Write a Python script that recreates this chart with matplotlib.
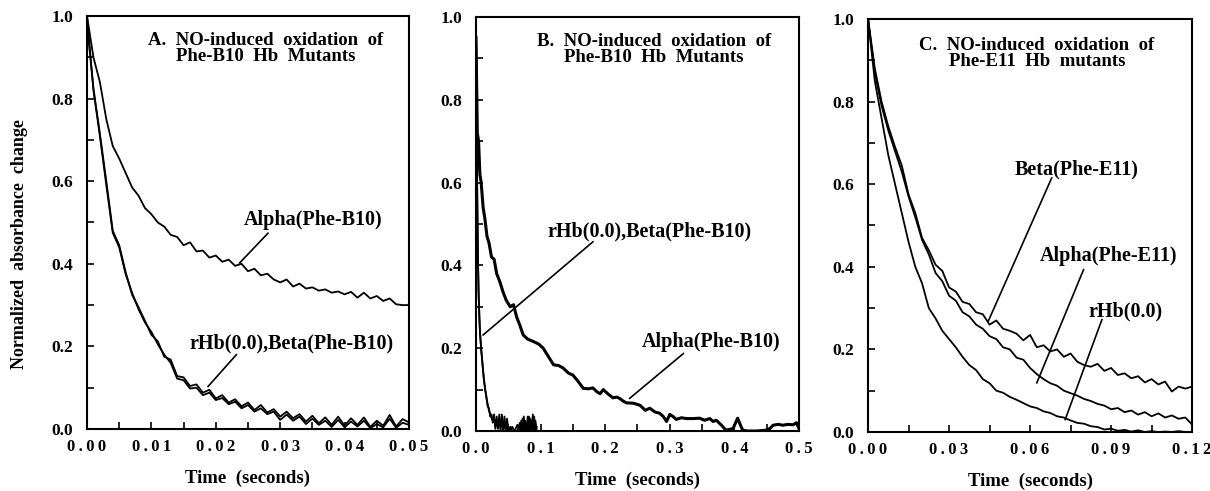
import matplotlib
matplotlib.use("Agg")
import matplotlib.pyplot as plt
from matplotlib.ticker import MultipleLocator, FixedLocator

plt.rcParams['font.family'] = ['Liberation Serif', 'DejaVu Serif']
plt.rcParams['font.weight'] = 'bold'

# ---- Panel A data (Phe-B10, 0-0.05 s) ----
time_a = [0.000, 0.001, 0.002, 0.003, 0.004, 0.005, 0.006, 0.007, 0.008, 0.009,
          0.010, 0.011, 0.012, 0.013, 0.014, 0.015, 0.016, 0.017, 0.018, 0.019,
          0.020, 0.021, 0.022, 0.023, 0.024, 0.025, 0.026, 0.027, 0.028, 0.029,
          0.030, 0.031, 0.032, 0.033, 0.034, 0.035, 0.036, 0.037, 0.038, 0.039,
          0.040, 0.041, 0.042, 0.043, 0.044, 0.045, 0.046, 0.047, 0.048, 0.049,
          0.050]
alpha_a = [1.000, 0.900, 0.840, 0.750, 0.685, 0.655, 0.620, 0.585, 0.565, 0.535,
           0.520, 0.500, 0.490, 0.470, 0.465, 0.445, 0.452, 0.430, 0.432, 0.415,
           0.420, 0.405, 0.410, 0.395, 0.400, 0.382, 0.388, 0.372, 0.376, 0.362,
           0.355, 0.362, 0.345, 0.352, 0.340, 0.343, 0.335, 0.338, 0.330, 0.333,
           0.326, 0.332, 0.318, 0.330, 0.316, 0.322, 0.310, 0.316, 0.302, 0.300,
           0.300]
rhb_a = [1.000, 0.820, 0.710, 0.590, 0.475, 0.440, 0.375, 0.330, 0.290, 0.258,
         0.235, 0.205, 0.180, 0.160, 0.122, 0.118, 0.098, 0.100, 0.082, 0.088,
         0.070, 0.075, 0.060, 0.066, 0.050, 0.058, 0.042, 0.050, 0.036, 0.042,
         0.022, 0.035, 0.020, 0.030, 0.012, 0.025, 0.010, 0.020, 0.005, 0.022,
         0.004, 0.018, 0.006, 0.020, 0.002, 0.012, 0.004, 0.025, 0.003, 0.015,
         0.010]
beta_a = [0.980, 0.825, 0.715, 0.600, 0.480, 0.445, 0.380, 0.325, 0.295, 0.262,
          0.228, 0.212, 0.175, 0.168, 0.128, 0.125, 0.104, 0.108, 0.088, 0.095,
          0.074, 0.082, 0.064, 0.072, 0.055, 0.064, 0.046, 0.058, 0.040, 0.048,
          0.030, 0.042, 0.026, 0.036, 0.018, 0.032, 0.014, 0.028, 0.010, 0.030,
          0.008, 0.026, 0.010, 0.028, 0.005, 0.020, 0.008, 0.034, 0.006, 0.024,
          0.016]

# ---- Panel B data (Phe-B10, 0-0.5 s) ----
time_b_alpha = [0.000, 0.002, 0.004, 0.006, 0.008, 0.011, 0.014, 0.017, 0.020, 0.024,
                0.028, 0.032, 0.037, 0.042, 0.047, 0.053, 0.058, 0.063, 0.068, 0.073,
                0.080, 0.089, 0.097, 0.104, 0.112, 0.120, 0.128, 0.135, 0.143, 0.150,
                0.158, 0.166, 0.174, 0.181, 0.187, 0.192, 0.197, 0.204, 0.212, 0.218,
                0.223, 0.228, 0.233, 0.244, 0.254, 0.262, 0.269, 0.277, 0.284, 0.290,
                0.295, 0.300, 0.305, 0.310, 0.318, 0.326, 0.336, 0.346, 0.354, 0.362,
                0.367, 0.372, 0.380, 0.387, 0.393, 0.398, 0.405, 0.410, 0.413, 0.420,
                0.435, 0.449, 0.455, 0.460, 0.468, 0.475, 0.483, 0.491, 0.496, 0.500]
alpha_b = [0.950, 0.720, 0.700, 0.620, 0.600, 0.540, 0.510, 0.470, 0.455, 0.420,
           0.415, 0.380, 0.360, 0.335, 0.315, 0.300, 0.305, 0.275, 0.255, 0.232,
           0.222, 0.216, 0.210, 0.200, 0.180, 0.160, 0.158, 0.152, 0.140, 0.135,
           0.120, 0.103, 0.102, 0.104, 0.095, 0.090, 0.100, 0.090, 0.080, 0.082,
           0.078, 0.072, 0.068, 0.067, 0.062, 0.050, 0.055, 0.046, 0.043, 0.035,
           0.023, 0.040, 0.035, 0.028, 0.032, 0.030, 0.030, 0.031, 0.026, 0.030,
           0.023, 0.026, 0.014, 0.002, 0.004, 0.006, 0.031, 0.012, 0.002, 0.000,
           0.000, 0.002, 0.006, 0.014, 0.016, 0.014, 0.016, 0.015, 0.020, 0.006]
time_b_fast = [0.000, 0.001, 0.002, 0.003, 0.004, 0.005, 0.006, 0.008, 0.010, 0.012,
               0.014, 0.016, 0.018, 0.020, 0.022, 0.024, 0.026, 0.028, 0.030, 0.032,
               0.034, 0.036, 0.038, 0.040, 0.042, 0.044, 0.046, 0.048, 0.050, 0.053,
               0.056, 0.060, 0.064, 0.068, 0.070, 0.072, 0.074, 0.076, 0.078, 0.080,
               0.082, 0.084, 0.086, 0.088, 0.090, 0.092, 0.094]
rhb_b = [1.000, 0.720, 0.550, 0.420, 0.330, 0.290, 0.240, 0.200, 0.160, 0.130,
         0.100, 0.085, 0.060, 0.055, 0.035, 0.040, 0.020, 0.030, 0.010, 0.035,
         0.005, 0.040, 0.010, 0.030, 0.000, 0.035, 0.005, 0.020, 0.000, 0.010,
         0.000, 0.000, 0.000, 0.020, 0.000, 0.030, 0.002, 0.025, 0.000, 0.035,
         0.000, 0.030, 0.005, 0.040, 0.000, 0.025, 0.000]
beta_b = [0.980, 0.700, 0.560, 0.410, 0.340, 0.280, 0.245, 0.195, 0.165, 0.125,
          0.105, 0.080, 0.065, 0.050, 0.040, 0.032, 0.025, 0.040, 0.005, 0.028,
          0.010, 0.030, 0.000, 0.040, 0.005, 0.020, 0.000, 0.030, 0.004, 0.000,
          0.010, 0.000, 0.015, 0.000, 0.025, 0.000, 0.035, 0.000, 0.020, 0.002,
          0.035, 0.000, 0.025, 0.002, 0.035, 0.000, 0.010]

# ---- Panel C data (Phe-E11, 0-0.12 s) ----
time_c = [0.0000, 0.0025, 0.0050, 0.0075, 0.0100, 0.0125, 0.0150, 0.0175, 0.0200, 0.0225,
          0.0250, 0.0275, 0.0300, 0.0325, 0.0350, 0.0375, 0.0400, 0.0425, 0.0450, 0.0475,
          0.0500, 0.0525, 0.0550, 0.0575, 0.0600, 0.0625, 0.0650, 0.0675, 0.0700, 0.0725,
          0.0750, 0.0775, 0.0800, 0.0825, 0.0850, 0.0875, 0.0900, 0.0925, 0.0950, 0.0975,
          0.1000, 0.1025, 0.1050, 0.1075, 0.1100, 0.1125, 0.1150, 0.1175, 0.1200]
beta_c = [1.000, 0.880, 0.800, 0.740, 0.690, 0.645, 0.575, 0.530, 0.470, 0.440,
          0.405, 0.390, 0.350, 0.340, 0.315, 0.310, 0.290, 0.285, 0.260, 0.270,
          0.250, 0.245, 0.238, 0.222, 0.235, 0.205, 0.210, 0.195, 0.200, 0.182,
          0.190, 0.170, 0.162, 0.158, 0.165, 0.148, 0.155, 0.138, 0.142, 0.130,
          0.135, 0.120, 0.128, 0.115, 0.122, 0.098, 0.110, 0.105, 0.110]
alpha_c = [1.000, 0.870, 0.790, 0.730, 0.680, 0.630, 0.570, 0.520, 0.465, 0.430,
           0.385, 0.365, 0.330, 0.318, 0.290, 0.280, 0.260, 0.250, 0.232, 0.225,
           0.205, 0.200, 0.180, 0.175, 0.155, 0.140, 0.128, 0.118, 0.112, 0.100,
           0.094, 0.088, 0.080, 0.075, 0.068, 0.064, 0.055, 0.058, 0.048, 0.052,
           0.042, 0.048, 0.038, 0.045, 0.035, 0.040, 0.032, 0.035, 0.018]
rhb_c = [1.000, 0.850, 0.760, 0.670, 0.600, 0.530, 0.460, 0.400, 0.360, 0.300,
         0.275, 0.245, 0.225, 0.205, 0.182, 0.162, 0.150, 0.128, 0.118, 0.100,
         0.095, 0.085, 0.078, 0.070, 0.062, 0.058, 0.050, 0.046, 0.038, 0.035,
         0.028, 0.022, 0.020, 0.014, 0.012, 0.006, 0.008, 0.003, 0.005, 0.001,
         0.004, 0.000, 0.002, 0.000, 0.001, 0.000, 0.002, 0.000, 0.000]

y_ticks = [0.0, 0.2, 0.4, 0.6, 0.8, 1.0]
xticks_a = [0.00, 0.01, 0.02, 0.03, 0.04, 0.05]
xticks_b = [0.0, 0.1, 0.2, 0.3, 0.4, 0.5]
xticks_c = [0.00, 0.03, 0.06, 0.09, 0.12]


def spaced(v, fmt):
    # wide letter spacing, as in the scanned figure
    return "\u2009".join(fmt.format(v))


def style_axes(ax, xmax, xticks, xminor, fmt):
    ax.set_xlim(0, xmax)
    ax.set_ylim(0, 1.0)
    ax.xaxis.set_major_locator(FixedLocator(xticks))
    ax.xaxis.set_minor_locator(MultipleLocator(xminor))
    ax.set_xticklabels([spaced(v, fmt) for v in xticks], fontsize=12)
    ax.yaxis.set_major_locator(FixedLocator(y_ticks))
    ax.yaxis.set_minor_locator(MultipleLocator(0.1))
    ax.set_yticklabels(["{:.1f}".format(v) for v in y_ticks], fontsize=12.5)
    ax.tick_params(which='both', direction='in', top=False, right=False, width=1.2)
    ax.tick_params(which='major', length=5)
    ax.tick_params(which='minor', length=5)
    ax.tick_params(axis='x', which='major', pad=7)
    ax.tick_params(axis='y', which='major', pad=10)
    for lab in ax.get_xticklabels() + ax.get_yticklabels():
        lab.set_fontweight('bold')
    for s in ax.spines.values():
        s.set_linewidth(1.5)
    ax.set_xlabel("Time  (seconds)", fontsize=13.5, fontweight='bold', labelpad=11)


def label(ax, text, xy_text, xy_line_start, xy_line_end):
    ax.text(xy_text[0], xy_text[1], text, ha='center', va='center',
            fontsize=14.5, fontweight='bold')
    ax.plot([xy_line_start[0], xy_line_end[0]], [xy_line_start[1], xy_line_end[1]],
            color='black', lw=1.2)


fig = plt.figure(figsize=(12.1, 4.91), dpi=100)
ax_a = fig.add_axes([0.0719, 0.1263, 0.2661, 0.8411])
ax_b = fig.add_axes([0.3934, 0.1222, 0.2669, 0.8432])
ax_c = fig.add_axes([0.7174, 0.1202, 0.2678, 0.8411])

title_kw = dict(ha='center', va='center', fontsize=13.5, fontweight='bold', linespacing=0.95)

# Panel A
ax_a.plot(time_a, alpha_a, color='black', lw=1.3)
ax_a.plot(time_a, rhb_a, color='black', lw=1.3)
ax_a.plot(time_a, beta_a, color='black', lw=1.3)
style_axes(ax_a, 0.05, xticks_a, 0.005, "{:.2f}")
ax_a.set_ylabel("Normalized  absorbance  change", fontsize=13, fontweight='bold')
ax_a.yaxis.set_label_coords(-0.183, 0.448)
ax_a.text(0.0278, 0.922, "A.  NO-induced  oxidation  of\nPhe-B10  Hb  Mutants", **title_kw)
label(ax_a, "Alpha(Phe-B10)", (0.0351, 0.506), (0.0281, 0.474), (0.0237, 0.402))
label(ax_a, "rHb(0.0),Beta(Phe-B10)", (0.0317, 0.208), (0.0232, 0.180), (0.0188, 0.103))

# Panel B
ax_b.plot(time_b_alpha, alpha_b, color='black', lw=2.2)
ax_b.plot(time_b_fast, rhb_b, color='black', lw=1.3)
ax_b.plot(time_b_fast, beta_b, color='black', lw=1.3)
style_axes(ax_b, 0.5, xticks_b, 0.05, "{:.1f}")
ax_b.text(0.275, 0.922, "B.  NO-induced  oxidation  of\nPhe-B10  Hb  Mutants", **title_kw)
label(ax_b, "rHb(0.0),Beta(Phe-B10)", (0.269, 0.481), (0.181, 0.457), (0.011, 0.232))
label(ax_b, "Alpha(Phe-B10)", (0.364, 0.216), (0.321, 0.187), (0.238, 0.079))

# Panel C
ax_c.plot(time_c, beta_c, color='black', lw=1.3)
ax_c.plot(time_c, alpha_c, color='black', lw=1.3)
ax_c.plot(time_c, rhb_c, color='black', lw=1.3)
style_axes(ax_c, 0.12, xticks_c, 0.015, "{:.2f}")
ax_c.text(0.0625, 0.916, "C.  NO-induced  oxidation  of\nPhe-E11  Hb  mutants", **title_kw)
label(ax_c, "Beta(Phe-E11)", (0.0773, 0.635), (0.0680, 0.615), (0.0445, 0.268))
label(ax_c, "Alpha(Phe-E11)", (0.0891, 0.425), (0.0798, 0.393), (0.0625, 0.119))
label(ax_c, "rHb(0.0)", (0.0953, 0.292), (0.0866, 0.272), (0.0730, 0.030))

fig.savefig("out.png", dpi=100)
